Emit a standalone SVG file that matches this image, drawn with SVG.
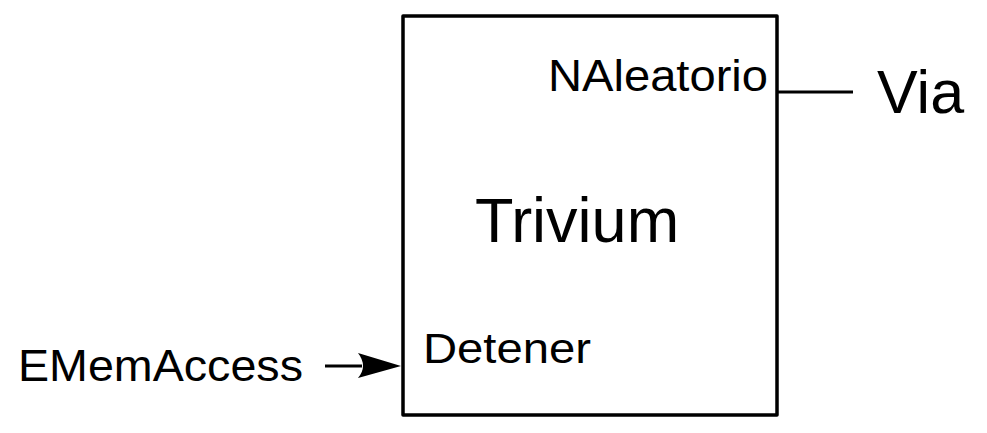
<svg xmlns="http://www.w3.org/2000/svg" width="987" height="433" viewBox="0 0 987 433">
  <style>
    text { font-family: "Liberation Sans", Arial, sans-serif; fill: #000; }
    .ln { stroke: #000; stroke-width: 3; fill: none; }
  </style>
  <rect x="0" y="0" width="987" height="433" fill="#fff"/>
  <g id="trivium">
    <rect x="403" y="16" width="374" height="399" fill="#fff" stroke="#000" stroke-width="3.5" stroke-linejoin="round"/>
    <text x="475" y="242" font-size="63">Trivium</text>
    <text x="548" y="91" font-size="44" textLength="220" lengthAdjust="spacingAndGlyphs">NAleatorio</text>
    <text x="423" y="363" font-size="43" textLength="168" lengthAdjust="spacingAndGlyphs">Detener</text>
  </g>
  <g id="via">
    <text x="877" y="113" font-size="61">Via</text>
  </g>
  <g id="ememaccess">
    <text x="18" y="381" font-size="44" textLength="285" lengthAdjust="spacingAndGlyphs">EMemAccess</text>
  </g>
  <g id="connectors">
    <line class="ln" x1="777" y1="92" x2="853" y2="92"/>
    <line class="ln" x1="325" y1="366" x2="362" y2="366"/>
    <path d="M401,366 L358,353 Q368,366 358,378 Z" fill="#000"/>
  </g>
</svg>
